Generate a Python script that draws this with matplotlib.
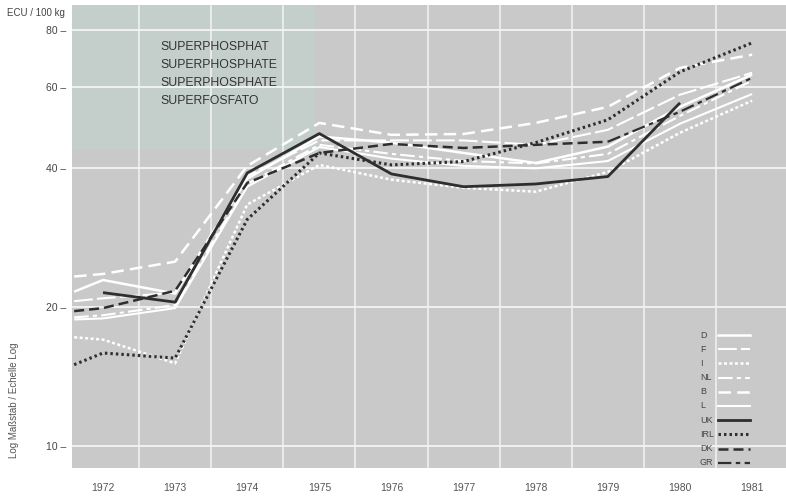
import matplotlib
matplotlib.use("Agg")
import matplotlib.pyplot as plt
from matplotlib.lines import Line2D
from matplotlib.patches import Rectangle

# ---------------- data ----------------
years = [1972, 1973, 1974, 1975, 1976, 1977, 1978, 1979, 1980, 1981]
edge_year = 1971.6          # series drawn from the left edge of the frame
x_full = [edge_year] + years

d_vals = [21.6, 22.9, 21.4, 38.0, 46.9, 45.5, 43.2, 41.1, 44.6, 54.4, 63.9]
f_vals = [20.6, 20.9, 21.5, 38.5, 46.0, 46.0, 46.0, 45.0, 48.5, 57.8, 64.5]
i_vals = [17.2, 17.0, 15.1, 33.4, 40.7, 37.8, 36.3, 35.6, 39.3, 47.8, 56.1]
nl_vals = [19.0, 19.2, 20.2, 37.0, 45.0, 43.0, 41.5, 41.0, 43.0, 52.0, 62.0]
b_vals = [23.3, 23.6, 25.1, 40.5, 50.2, 47.3, 47.5, 50.2, 54.4, 66.1, 70.6]
l_vals = [18.8, 18.9, 19.9, 36.5, 44.5, 42.0, 40.5, 40.0, 41.5, 50.0, 58.0]

uk_years = [1972, 1973, 1974, 1975, 1976, 1977, 1978, 1979, 1980]
uk_vals = [21.5, 20.5, 39.1, 47.6, 38.9, 36.5, 37.0, 38.4, 55.5]
irl_vals = [15.0, 15.9, 15.5, 31.0, 43.2, 40.7, 41.4, 45.5, 51.0, 64.8, 74.9]
dk_vals = [19.6, 19.9, 21.7, 37.2, 43.2, 45.2, 44.3, 45.0, 45.7]
dk_years = [edge_year, 1972, 1973, 1974, 1975, 1976, 1977, 1978, 1979]
gr_years = [1979, 1980, 1981]
gr_vals = [45.7, 53.1, 62.9]

y_ticks = [10, 20, 40, 60, 80]
y_ticklabels = ["10 –", "20 –", "40 –", "60 –", "80 –"]
title_lines = ["SUPERPHOSPHAT", "SUPERPHOSPHATE", "SUPERPHOSPHATE", "SUPERFOSFATO"]
legend_labels = ["D", "F", "I", "NL", "B", "L", "UK", "IRL", "DK", "GR"]

# ---------------- figure ----------------
plt.rcParams['font.family'] = ['Liberation Sans', 'DejaVu Sans']
fig = plt.figure(figsize=(7.86, 4.97), dpi=100)
ax = fig.add_axes([72/786, 1 - 468/497, 1 - 72/786, (468 - 5)/497])
bg = "#c9c9c9"
ax.set_facecolor(bg)
for s in ax.spines.values():
    s.set_visible(False)

ax.set_yscale("log")
ax.set_ylim(8.95, 90.5)
ax.set_xlim(1971.57, 1981.47)

# tinted top-left panel
ax.add_patch(Rectangle((0, (468-150)/463), (315-72)/714, (150-5)/463,
                       transform=ax.transAxes, facecolor="#c4cfcc",
                       edgecolor="none", zorder=0))

# grid
for xv in [y + 0.5 for y in years[:-1]]:
    ax.axvline(xv, color="#f4f4f4", lw=1.1, zorder=1)
for yv in y_ticks:
    ax.axhline(yv, color="#f4f4f4", lw=1.3, zorder=1)

ax.set_yticks(y_ticks)
ax.set_yticklabels(y_ticklabels, fontsize=7.5, color="#444444")
ax.yaxis.set_minor_locator(matplotlib.ticker.NullLocator())
ax.tick_params(axis="y", length=0, pad=4)
ax.set_xticks(years)
ax.set_xticklabels([str(y) for y in years], fontsize=7.5, color="#555555")
ax.tick_params(axis="x", length=0, pad=11)

white = "white"
dark = "#2e2e2e"
styles = {
    "D":   dict(color=white, lw=1.8, ls="-"),
    "F":   dict(color=white, lw=1.5, ls=(0, (9, 2))),
    "I":   dict(color=white, lw=1.8, ls=(0, (1.2, 1.0))),
    "NL":  dict(color=white, lw=1.5, ls=(0, (7, 2, 2, 2))),
    "B":   dict(color=white, lw=1.8, ls=(0, (5, 2.5))),
    "L":   dict(color=white, lw=1.5, ls="-"),
    "UK":  dict(color=dark, lw=2.0, ls="-"),
    "IRL": dict(color=dark, lw=2.2, ls=(0, (0.8, 1.0))),
    "DK":  dict(color=dark, lw=1.8, ls=(0, (4, 2))),
    "GR":  dict(color=dark, lw=1.6, ls=(0, (6, 2, 2, 2))),
}

series = [
    ("D", x_full, d_vals), ("F", x_full, f_vals), ("I", x_full, i_vals),
    ("NL", x_full, nl_vals), ("B", x_full, b_vals), ("L", x_full, l_vals),
    ("IRL", x_full, irl_vals), ("DK", dk_years, dk_vals),
    ("GR", gr_years, gr_vals), ("UK", uk_years, uk_vals),
]
for name, xs, ys in series:
    ax.plot(xs, ys, zorder=3 if styles[name]["color"] == white else 4,
            solid_capstyle="butt", **styles[name])

# title block
for k, t in enumerate(title_lines):
    ax.text((160-72)/714, 1 - (47 + 18*k - 5)/463, t, transform=ax.transAxes,
            fontsize=8.8, color="#333333", va="center", ha="left")

# legend (manual)
for k, name in enumerate(legend_labels):
    yy = 1 - (335 + 14.2*k - 5)/463
    ax.text((700-72)/714, yy, name, transform=ax.transAxes, fontsize=6.5,
            color="#444444", va="center", ha="left")
    ax.add_line(Line2D([(718-72)/714, (750-72)/714], [yy, yy],
                       transform=ax.transAxes, zorder=5, **styles[name]))

fig.text(65/786, 1 - 13/497, "ECU / 100 kg", fontsize=7, color="#444444",
         ha="right", va="center")
fig.text(14/786, 1 - 400/497, "Log Maßstab / Echelle Log", fontsize=7,
         color="#555555", rotation=90, ha="center", va="center")

fig.savefig("out.png", dpi=100, facecolor="white")
